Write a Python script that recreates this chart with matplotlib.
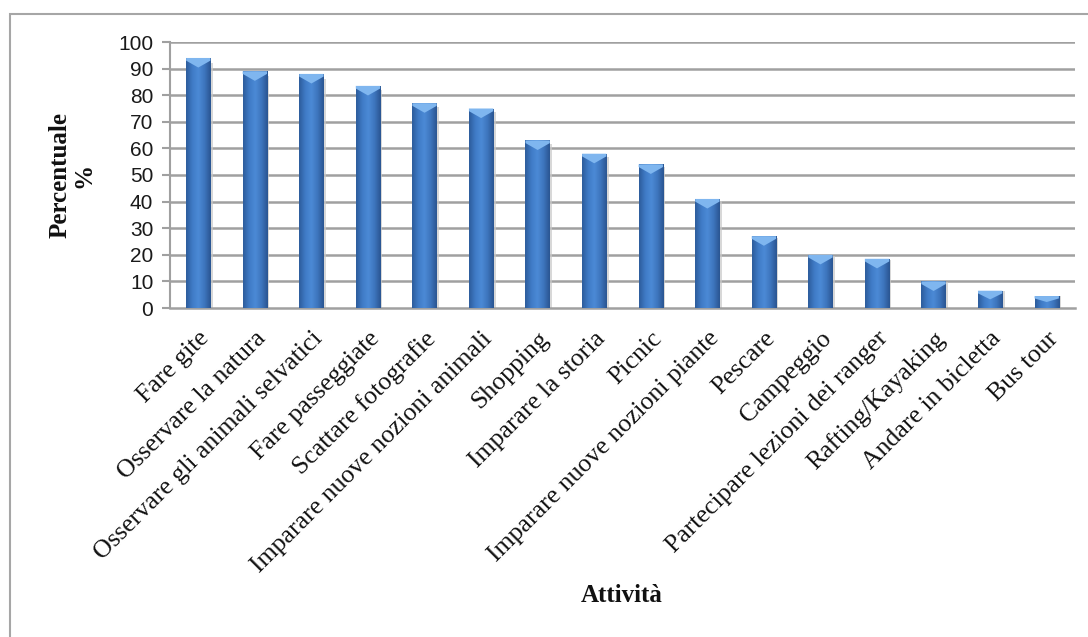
import numpy as np
import matplotlib
matplotlib.use("Agg")
import matplotlib.pyplot as plt
from matplotlib.patches import Rectangle, Polygon
from matplotlib.colors import LinearSegmentedColormap
from matplotlib.transforms import ScaledTranslation

categories = [
    "Fare gite", "Osservare la natura", "Osservare gli animali selvatici",
    "Fare passeggiate", "Scattare fotografie", "Imparare nuove nozioni animali",
    "Shopping", "Imparare la storia", "Picnic", "Imparare nuove nozioni piante",
    "Pescare", "Campeggio", "Partecipare lezioni dei ranger", "Rafting/Kayaking",
    "Andare in bicletta", "Bus tour",
]
values = [94, 89, 88, 83.5, 77, 75, 63, 58, 54, 41, 27, 20, 18.5, 10, 6.5, 4.5]
yticks = list(range(0, 101, 10))

W, H = 1088, 637
fig = plt.figure(figsize=(W / 100, H / 100), dpi=100)
fig.patch.set_facecolor("white")

# outer chart frame
fig.add_artist(Rectangle((10 / W, -0.05), 1.2, 1 - 14 / H + 0.05,
                         transform=fig.transFigure, fill=False,
                         edgecolor="#a6a6a6", lw=1.5, clip_on=False))

ax = fig.add_axes([170 / W, 1 - 308 / H, (1075 - 170) / W, (308 - 42) / H])
ax.set_facecolor("white")

x = np.arange(len(categories))
width = 0.43
grid_col = "#a0a0a0"

ax.set_ylim(0, 100)
ax.set_xlim(-0.5, len(categories) - 0.5)
ax.set_yticks(yticks)
ax.set_yticklabels([str(v) for v in yticks], family="Liberation Sans",
                   fontsize=15, color="#1a1a1a")
for yv in yticks[1:]:
    ax.axhline(yv, color=grid_col, lw=1.8, zorder=1)
ax.tick_params(axis="y", length=6, width=1.5, color=grid_col, pad=6)
ax.tick_params(axis="x", length=0, pad=4)
for s in ["top", "right"]:
    ax.spines[s].set_visible(False)
ax.spines["left"].set_color(grid_col)
ax.spines["left"].set_linewidth(1.5)
ax.spines["bottom"].set_color(grid_col)
ax.spines["bottom"].set_linewidth(1.8)

bars = ax.bar(x, values, width=width, color="#3a70b8", zorder=3,
              edgecolor="none")

# horizontal shading across each bar
cmap = LinearSegmentedColormap.from_list(
    "barshade", ["#2d5c9c", "#3f7bc6", "#4c8ad6", "#3d75bd", "#2a5592"])
grad = np.linspace(0, 1, 64).reshape(1, -1)
for b, v in zip(bars, values):
    x0 = b.get_x()
    im = ax.imshow(grad, cmap=cmap, aspect="auto", zorder=4,
                   extent=[x0, x0 + b.get_width(), 0, v], interpolation="bicubic")
    im.set_clip_path(b)
    # soft drop shadow on the right
    ax.add_patch(Rectangle((x0 + b.get_width(), 0), 0.04, v * 0.98,
                           color="#c8c8c8", alpha=0.7, zorder=2, lw=0))
    # bevelled top cap
    xc = x0 + b.get_width() / 2
    h1 = min(1.0, v * 0.2)
    h2 = min(3.6, v * 0.5)
    ax.add_patch(Polygon([(x0, v), (x0 + b.get_width(), v),
                          (x0 + b.get_width(), v - h1), (xc, v - h2),
                          (x0, v - h1)], closed=True,
                         facecolor="#7fb6ef", edgecolor="none", zorder=5))

ax.set_xticks(x)
ax.set_xticklabels(categories, rotation=45, ha="right", va="top",
                   rotation_mode="anchor", family="Liberation Serif",
                   fontsize=18.5, color="#111111")
for lbl in ax.get_xticklabels():
    lbl.set_transform(lbl.get_transform() +
                      ScaledTranslation(0 / 100, -14 / 100, fig.dpi_scale_trans))

fig.text(72 / W, 1 - 175 / H, "Percentuale\n%", rotation=90, ha="center",
         va="center", multialignment="center", family="Liberation Serif",
         fontweight="bold", fontsize=18, color="#111111", linespacing=1.0)
fig.text(622 / W, 1 - 596 / H, "Attività", ha="center", va="center",
         family="Liberation Serif", fontweight="bold", fontsize=18,
         color="#111111")

fig.savefig("out.png", dpi=100, facecolor="white")
